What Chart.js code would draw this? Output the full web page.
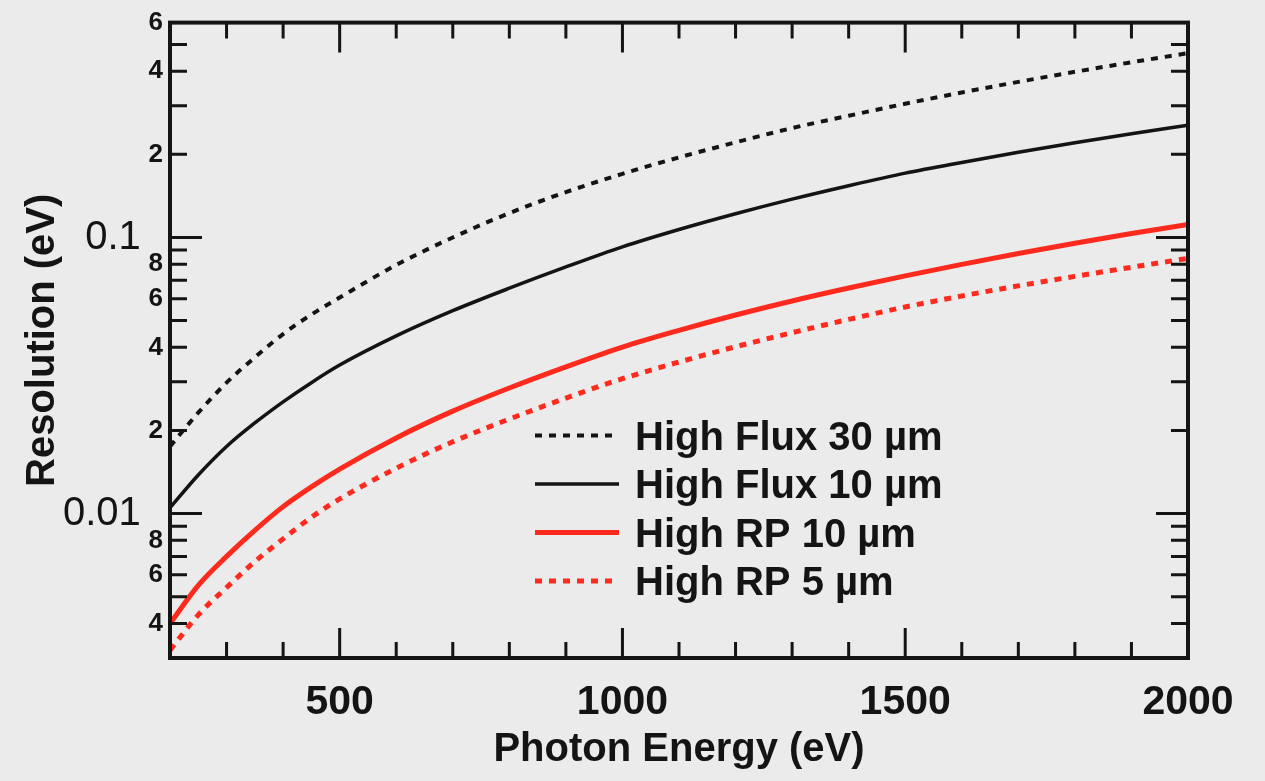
<!DOCTYPE html>
<html>
<head>
<meta charset="utf-8">
<title>Resolution vs Photon Energy</title>
<script src="https://cdn.jsdelivr.net/npm/chart.js@4.4.1/dist/chart.umd.min.js"></script>
<style>
  html, body { margin: 0; padding: 0; background: #ebebeb; }
  #contenedor { width: 1265px; height: 781px; }
</style>
</head>
<body>
<div id="contenedor"><canvas id="grafica"></canvas></div>
<script>
// Energía del fotón (eV)
const energias = [200, 250, 300, 350, 400, 450, 500, 600, 700, 800, 900, 1000, 1100, 1200, 1300, 1400, 1500, 1600, 1700, 1800, 1900, 2000];

// Resolución (eV)
const highFlux30 = [0.0175, 0.0232, 0.0298, 0.0368, 0.0447, 0.0526, 0.0606, 0.0795, 0.100, 0.1225, 0.146, 0.170, 0.195, 0.221, 0.249, 0.276, 0.305, 0.335, 0.366, 0.398, 0.431, 0.465];
const highFlux10 = [0.0105, 0.0138, 0.0175, 0.0213, 0.0254, 0.0298, 0.0345, 0.0440, 0.0543, 0.0655, 0.0782, 0.0925, 0.1069, 0.1219, 0.1377, 0.154, 0.171, 0.187, 0.2035, 0.2203, 0.2374, 0.255];
const highRP10 = [0.0040, 0.0055, 0.0070, 0.0087, 0.0106, 0.0125, 0.0145, 0.0188, 0.0235, 0.0285, 0.0340, 0.0401, 0.0461, 0.0524, 0.0589, 0.0656, 0.0726, 0.0799, 0.0875, 0.0953, 0.1033, 0.1115];
const highRP5 = [0.0032, 0.0043, 0.0054, 0.0067, 0.0081, 0.0097, 0.0113, 0.0146, 0.0182, 0.0220, 0.0262, 0.0308, 0.0354, 0.0402, 0.0452, 0.0505, 0.0560, 0.0614, 0.0668, 0.0723, 0.0780, 0.0840];

const nombresSeries = ['High Flux 30 µm', 'High Flux 10 µm', 'High RP 10 µm', 'High RP 5 µm'];

// Marcas y etiquetas de los ejes
const xEtiquetas = [500, 1000, 1500, 2000];
const xMarcas = [300, 400, 500, 600, 700, 800, 900, 1000, 1100, 1200, 1300, 1400, 1500, 1600, 1700, 1800, 1900];
const yEtiquetas = [0.004, 0.006, 0.008, 0.01, 0.02, 0.04, 0.06, 0.08, 0.1, 0.2, 0.4, 0.6];
const yMayores = [0.01, 0.1];
const yMarcas = [0.004, 0.005, 0.006, 0.007, 0.008, 0.009, 0.01, 0.02, 0.03, 0.04, 0.05, 0.06, 0.07, 0.08, 0.09, 0.1, 0.2, 0.3, 0.4, 0.5];

const ROJO = '#ff2a1e';
const NEGRO = '#141414';
const FUENTE = '"Liberation Sans", Arial, Helvetica, sans-serif';

function puntos(serie) {
    return energias.map((e, i) => ({ x: e, y: serie[i] }));
}

function esMayor(v) {
    return yMayores.some(m => Math.abs(m - v) < 1e-9);
}

// Dibuja el marco y las marcas hacia adentro en los cuatro lados
const marcoEjes = {
    id: 'marcoEjes',
    afterDatasetsDraw(chart) {
        const { ctx, chartArea: a, scales: { x, y } } = chart;
        ctx.save();
        ctx.strokeStyle = NEGRO;
        ctx.lineCap = 'butt';
        ctx.lineWidth = 3;
        ctx.beginPath();
        xMarcas.forEach(v => {
            const px = x.getPixelForValue(v);
            const largo = xEtiquetas.includes(v) ? 30 : 16;
            ctx.moveTo(px, a.bottom); ctx.lineTo(px, a.bottom - largo);
            ctx.moveTo(px, a.top); ctx.lineTo(px, a.top + largo);
        });
        yMarcas.forEach(v => {
            const py = y.getPixelForValue(v);
            const largo = esMayor(v) ? 32 : 17;
            ctx.moveTo(a.left, py); ctx.lineTo(a.left + largo, py);
            ctx.moveTo(a.right, py); ctx.lineTo(a.right - largo, py);
        });
        ctx.stroke();
        ctx.lineWidth = 4;
        ctx.strokeRect(a.left, a.top, a.right - a.left, a.bottom - a.top);
        ctx.restore();
    }
};

// Leyenda dentro del área de la gráfica
const leyenda = {
    id: 'leyenda',
    afterDraw(chart) {
        const { ctx, chartArea: a } = chart;
        const x0 = a.left + 365;
        const y0 = a.top + 413;
        const paso = 48.5;
        ctx.save();
        chart.data.datasets.forEach((ds, i) => {
            const yy = y0 + i * paso;
            ctx.strokeStyle = ds.borderColor;
            ctx.lineWidth = ds.borderWidth;
            ctx.setLineDash(ds.borderDash || []);
            ctx.beginPath();
            ctx.moveTo(x0, yy);
            ctx.lineTo(x0 + 84, yy);
            ctx.stroke();
            ctx.setLineDash([]);
            ctx.fillStyle = NEGRO;
            ctx.font = 'bold 40px ' + FUENTE;
            ctx.textBaseline = 'alphabetic';
            ctx.textAlign = 'left';
            ctx.fillText(ds.label, x0 + 100, yy + 14);
        });
        ctx.restore();
    }
};

const fondo = {
    id: 'fondo',
    beforeDraw(chart) {
        const { ctx, width, height } = chart;
        ctx.save();
        ctx.fillStyle = '#ebebeb';
        ctx.fillRect(0, 0, width, height);
        ctx.restore();
    }
};

const ctxGrafica = document.getElementById('grafica');

const grafica = new Chart(ctxGrafica, {
    type: 'line',
    data: {
        datasets: [
            {
                label: nombresSeries[0],
                data: puntos(highFlux30),
                borderColor: NEGRO,
                borderWidth: 4,
                borderDash: [7, 7],
                pointRadius: 0,
                cubicInterpolationMode: 'monotone'
            },
            {
                label: nombresSeries[1],
                data: puntos(highFlux10),
                borderColor: NEGRO,
                borderWidth: 3.5,
                pointRadius: 0,
                cubicInterpolationMode: 'monotone'
            },
            {
                label: nombresSeries[2],
                data: puntos(highRP10),
                borderColor: ROJO,
                borderWidth: 5,
                pointRadius: 0,
                cubicInterpolationMode: 'monotone'
            },
            {
                label: nombresSeries[3],
                data: puntos(highRP5),
                borderColor: ROJO,
                borderWidth: 5,
                borderDash: [7, 7],
                pointRadius: 0,
                cubicInterpolationMode: 'monotone'
            }
        ]
    },
    options: {
        responsive: true,
        maintainAspectRatio: false,
        animation: false,
        layout: { padding: { left: 0, right: 77, top: 19, bottom: 0 } },
        plugins: {
            legend: { display: false },
            tooltip: { enabled: false }
        },
        scales: {
            x: {
                type: 'linear',
                min: 200,
                max: 2000,
                grid: { display: false, drawTicks: false },
                border: { display: false },
                afterBuildTicks: (s) => { s.ticks = xEtiquetas.map(v => ({ value: v })); },
                afterFit: (s) => { s.height = 123; },
                ticks: {
                    autoSkip: false,
                    maxRotation: 0,
                    padding: 20,
                    color: NEGRO,
                    font: { family: FUENTE, size: 41, weight: 'bold' },
                    callback: (v) => String(v)
                },
                title: {
                    display: true,
                    text: 'Photon Energy (eV)',
                    color: NEGRO,
                    font: { family: FUENTE, size: 40, weight: 'bold' },
                    padding: { top: 0, bottom: 7 }
                }
            },
            y: {
                type: 'logarithmic',
                min: 0.003,
                max: 0.6,
                bounds: 'data',
                grid: { display: false, drawTicks: false },
                border: { display: false },
                afterBuildTicks: (s) => { s.ticks = yEtiquetas.map(v => ({ value: v })); },
                afterFit: (s) => { s.width = 170; },
                ticks: {
                    autoSkip: false,
                    padding: 7,
                    color: NEGRO,
                    font: (c) => (c.tick && esMayor(c.tick.value))
                        ? { family: FUENTE, size: 40, weight: 'normal' }
                        : { family: FUENTE, size: 26, weight: 'bold' },
                    callback: (v) => {
                        if (esMayor(v)) return (v < 0.05 ? '0.01' : '0.1') + '  ';
                        return String(Math.round(v / Math.pow(10, Math.floor(Math.log10(v) + 1e-9))));
                    }
                },
                title: {
                    display: true,
                    text: 'Resolution (eV)',
                    color: NEGRO,
                    font: { family: FUENTE, size: 40, weight: 'bold' },
                    padding: { top: 19, bottom: 0 }
                }
            }
        }
    },
    plugins: [fondo, marcoEjes, leyenda]
});
</script>
</body>
</html>
